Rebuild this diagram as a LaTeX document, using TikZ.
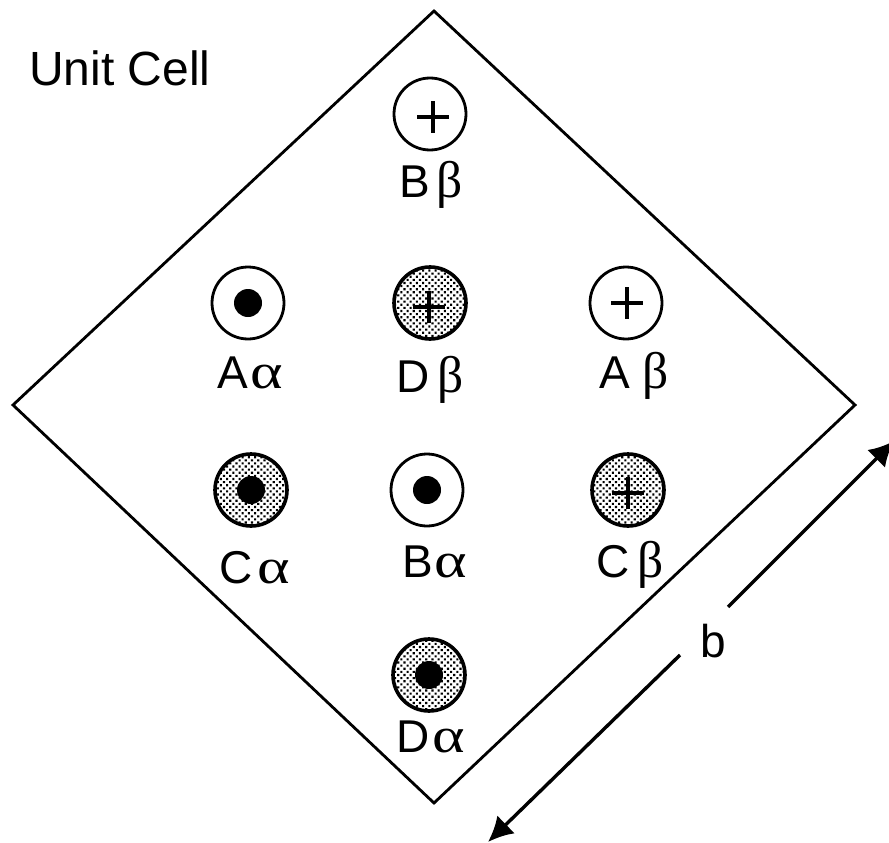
\documentclass[tikz,border=0pt]{standalone}
\usepackage{fontspec}
\setmainfont{Liberation Sans}
\newfontfamily\grkA[Scale=1.08,FakeStretch=1.25]{Liberation Serif}
\newfontfamily\grkB[Scale=1.12]{Liberation Serif}
\usetikzlibrary{arrows.meta,patterns.meta}
\tikzset{
  x=1pt,y=-1pt,
  cellline/.style={draw=black,line width=2.8pt,line join=miter},
  ring/.style={circle,draw=black,line width=2.8pt,minimum size=72pt,inner sep=0pt,fill=white},
  shaded/.style={circle,draw=black,line width=3.6pt,minimum size=72pt,inner sep=0pt,
    preaction={fill=white},pattern={Dots[distance=4.4pt,angle=45,radius=1.5pt]},pattern color=black},
  dotmark/.style={circle,fill=black,minimum size=28pt,inner sep=0pt},
  lab/.style={font=\fontsize{46}{48}\selectfont,inner sep=0pt,anchor=base},
  plusline/.style={draw=black,line width=3.2pt},
  dimarrow/.style={draw=black,line width=3.4pt,-{Latex[length=25pt,width=25pt]}}
}
\newcommand{\gla}[1]{\hspace{#1pt}{\grkA α}}
\newcommand{\glb}[1]{\hspace{#1pt}{\grkB β}}
\newcommand{\plusat}[3]{\draw[plusline] ([xshift=#2pt-16pt,yshift=#3pt]#1.center) -- ([xshift=#2pt+16pt,yshift=#3pt]#1.center); \draw[plusline] ([xshift=#2pt,yshift=#3pt+16pt]#1.center) -- ([xshift=#2pt,yshift=#3pt-16pt]#1.center);}
\begin{document}
\begin{tikzpicture}
\useasboundingbox (0,0) rectangle (889,843);
\fill[white] (0,0) rectangle (889,843);
\coordinate (top) at (434,11);
\coordinate (right) at (855,405);
\coordinate (bottom) at (434,803);
\coordinate (left) at (13,405);
\draw[cellline] (top) -- (right) -- (bottom) -- (left) -- cycle;
\node[lab,font=\fontsize{48}{50}\selectfont,anchor=base west] (title) at (29,85) {Unit Cell};
\node[ring] (c1) at (430,114) {}; \plusat{c1}{3}{-3}
\node[lab] (l1) at (431,197) {B\glb{6}};
\node[ring] (c2) at (248,303) {}; \node[dotmark] (d2) at (c2) {};
\node[lab] (l2) at (250,388) {A\gla{2}};
\node[shaded] (c3) at (430,303) {}; \plusat{c3}{-1}{-4}
\node[lab] (l3) at (430,392) {D\glb{7}};
\node[ring] (c4) at (626,303) {}; \plusat{c4}{1}{0}
\node[lab] (l4) at (634,388) {A\glb{12}};
\node[shaded] (c5) at (251,490) {}; \node[dotmark] (d5) at (c5) {};
\node[lab] (l5) at (255,583) {C\gla{5}};
\node[ring] (c6) at (427,490) {}; \node[dotmark] (d6) at (c6) {};
\node[lab] (l6) at (435,577) {B\gla{1}};
\node[shaded] (c7) at (628,490) {}; \plusat{c7}{0}{-3}
\node[lab] (l7) at (630,577) {C\glb{8}};
\node[shaded] (c8) at (429,675) {}; \node[dotmark] (d8) at (c8) {};
\node[lab] (l8) at (431,752) {D\gla{3}};
\node[lab] (b) at (713,657) {b};
\coordinate (a1) at (728,607);
\coordinate (a2) at (894,441);
\coordinate (a3) at (680,655);
\coordinate (a4) at (488,842);
\draw[dimarrow] (a1) -- (a2);
\draw[dimarrow] (a3) -- (a4);
\end{tikzpicture}
\end{document}
